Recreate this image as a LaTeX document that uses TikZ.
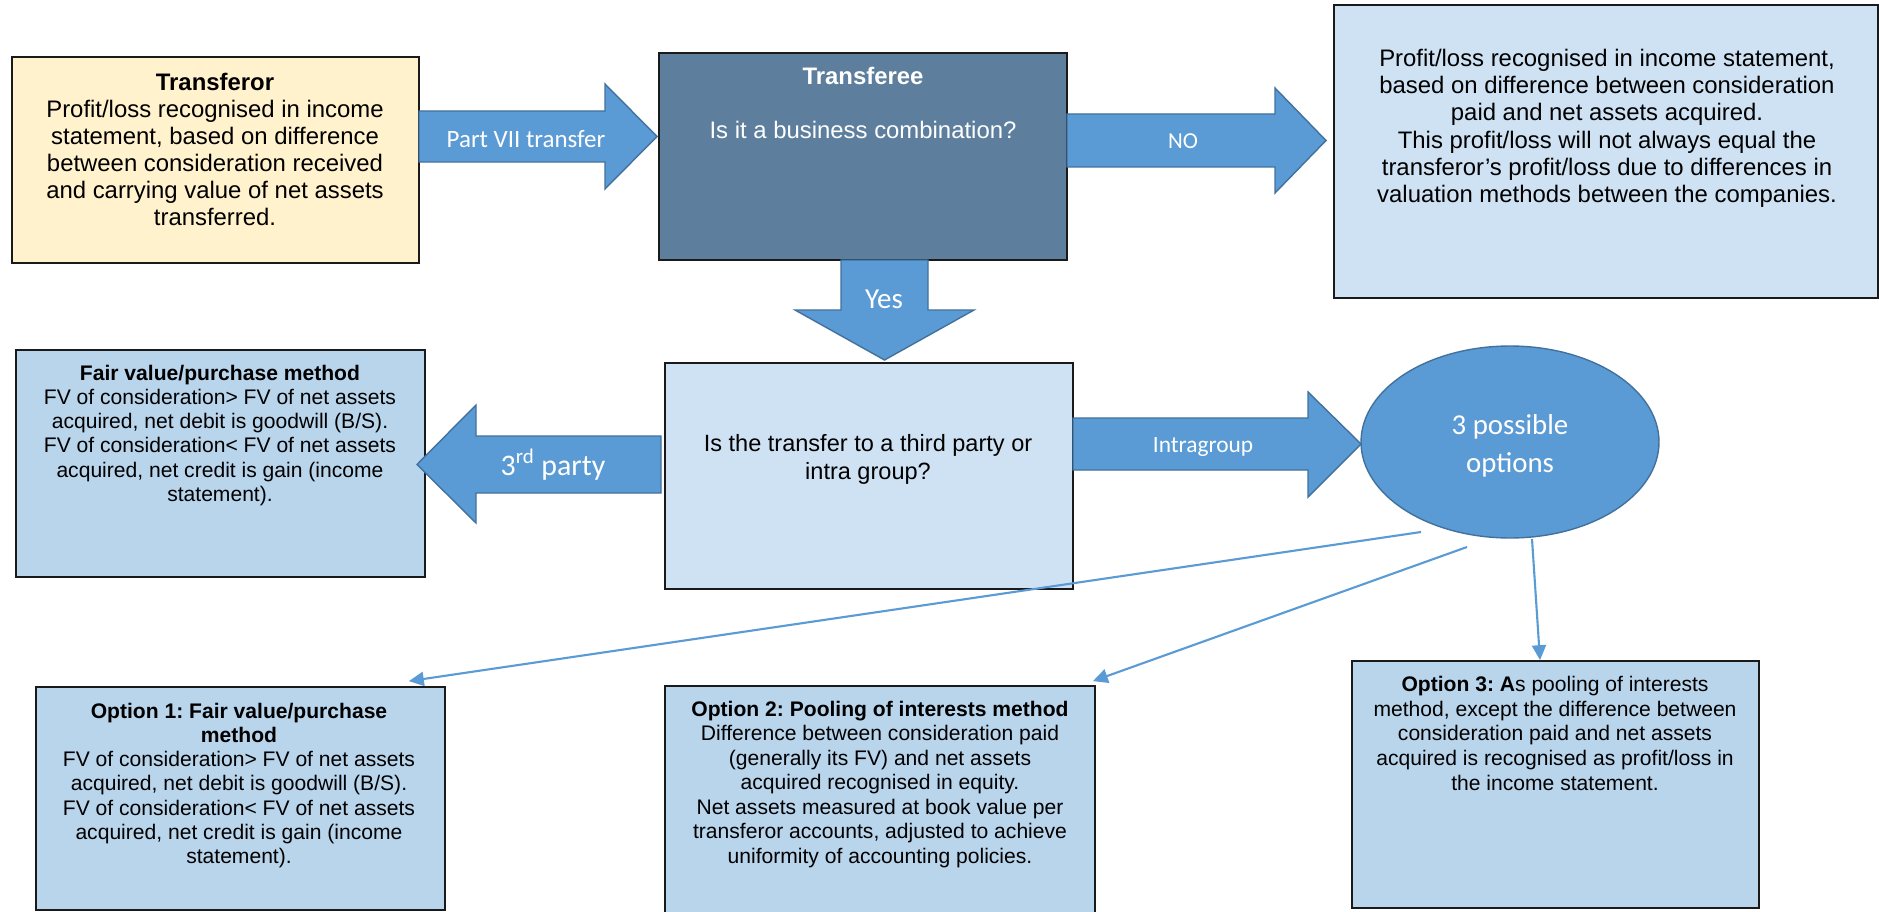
\documentclass[tikz,border=0pt]{standalone}
\usepackage{fontspec}
\setmainfont{Liberation Sans}
\newfontfamily\calfont{Carlito}
\usetikzlibrary{fit,shapes.geometric,arrows.meta,calc}
\frenchspacing

\definecolor{paleyellow}{HTML}{FFF2CC}
\definecolor{slatepanel}{HTML}{5D7F9D}
\definecolor{paleblue}{HTML}{CFE2F3}
\definecolor{midblue}{HTML}{B9D5EC}
\definecolor{accentblue}{HTML}{5B9BD5}
\definecolor{accentedge}{HTML}{41719C}
\definecolor{frameblack}{HTML}{1A1A1A}

\begin{document}
\begin{tikzpicture}[x=0.02cm,y=-0.02cm,
  panel/.style={fit={#1}, inner sep=0pt, draw=frameblack, line width=1pt},
  blockarrow/.style={fill=accentblue, draw=accentedge, line width=0.8pt, line join=miter},
  txt/.style={align=center, inner sep=0pt, anchor=north, text=black},
  arrowlabel/.style={inner sep=0pt, anchor=base, text=white},
  link/.style={draw=accentblue, line width=1.2pt, -{Triangle[length=8.5pt,width=8pt]}}
]
\useasboundingbox[fill=white] (0,0) rectangle (1879,912);

% ---------- panels ----------
\node[panel={(12,57) (419,263)}, fill=paleyellow] (tfr) {};
\node[panel={(659,53) (1067,260)}, fill=slatepanel] (tfe) {};
\node[panel={(1334,5) (1878,298)}, fill=paleblue] (noresult) {};
\node[panel={(16,350) (425,577)}, fill=midblue] (thirdres) {};
\node[panel={(665,363) (1073,589)}, fill=paleblue] (question) {};
\node[panel={(36,687) (445,910)}, fill=midblue] (opt1) {};
\node[panel={(665,686) (1095,920)}, fill=midblue] (opt2) {};
\node[panel={(1352,661) (1759,908)}, fill=midblue] (opt3) {};

\node[ellipse, minimum width=5.96cm, minimum height=3.84cm, inner sep=0pt,
      fill=accentblue, draw=accentedge, line width=0.8pt] (options) at (1510,442) {};

% ---------- block arrows ----------
\draw[blockarrow] (419,111) -- (605,111) -- (605,84) -- (657,136.5) -- (605,189) -- (605,162) -- (419,162) -- cycle;
\draw[blockarrow] (1067,114) -- (1275,114) -- (1275,88) -- (1326,140.5) -- (1275,193) -- (1275,167) -- (1067,167) -- cycle;
\draw[blockarrow] (841,260) -- (928,260) -- (928,310) -- (974,310) -- (884.5,360) -- (795,310) -- (841,310) -- cycle;
\draw[blockarrow] (661,436) -- (476,436) -- (476,405) -- (417,464.5) -- (476,523) -- (476,493) -- (661,493) -- cycle;
\draw[blockarrow] (1073,418) -- (1308,418) -- (1308,392) -- (1361,444) -- (1308,497) -- (1308,470) -- (1073,470) -- cycle;

% ---------- arrow labels ----------
\node[arrowlabel, font={\calfont\fontsize{14.2}{17}\selectfont}] (lblpart) at (526,148) {Part VII transfer};
\node[arrowlabel, font={\calfont\fontsize{13}{16}\selectfont}] (lblno) at (1183,149) {NO};
\node[arrowlabel, font={\calfont\fontsize{16.5}{20}\selectfont}] (lblyes) at (884,308) {Yes};
\node[arrowlabel, font={\calfont\fontsize{17}{20}\selectfont}] (lblthird) at (553,475) {3\textsuperscript{rd} party};
\node[arrowlabel, font={\calfont\fontsize{13.3}{16}\selectfont}] (lblintra) at (1203,452) {Intragroup};

% ---------- panel texts ----------
\node[txt, font={\fontsize{13.6}{15.4}\selectfont}] (tfrtext) at (215,71) {\strut\textbf{Transferor}\\Profit/loss recognised in income\\statement, based on difference\\between consideration received\\and carrying value of net assets\\transferred.};

\node[arrowlabel, font={\fontsize{13.6}{15.4}\selectfont\bfseries}] (tfetitle) at (863,85) {Transferee};
\node[arrowlabel, font={\fontsize{13.6}{15.4}\selectfont}] (tfetext) at (863,139) {Is it a business combination?};

\node[txt, font={\fontsize{13.6}{15.5}\selectfont}] (notext) at (1607,47) {\strut Profit/loss recognised in income statement,\\based on difference between consideration\\paid and net assets acquired.\\This profit/loss will not always equal the\\transferor’s profit/loss due to differences in\\valuation methods between the companies.};

\node[txt, font={\fontsize{12}{13.77}\selectfont}] (thirdtext) at (220,363) {\strut\textbf{Fair value/purchase method}\\FV of consideration> FV of net assets\\acquired, net debit is goodwill (B/S).\\FV of consideration< FV of net assets\\acquired, net credit is gain (income\\statement).};

\node[txt, font={\fontsize{13.4}{15.9}\selectfont}] (questiontext) at (868,431.5) {\strut Is the transfer to a third party or\\intra group?};

\node[txt, text=white, font={\calfont\fontsize{16.4}{21.6}\selectfont}] (optionstext) at (1510,407.5) {\strut 3 possible\\options};

\node[txt, font={\fontsize{12}{13.77}\selectfont}] (opt1text) at (239,701) {\strut\textbf{Option 1: Fair value/purchase}\\\textbf{method}\\FV of consideration> FV of net assets\\acquired, net debit is goodwill (B/S).\\FV of consideration< FV of net assets\\acquired, net credit is gain (income\\statement).};

\node[txt, font={\fontsize{12}{13.94}\selectfont}] (opt2text) at (880,699) {\strut\textbf{Option 2: Pooling of interests method}\\Difference between consideration paid\\(generally its FV) and net assets\\acquired recognised in equity.\\Net assets measured at book value per\\transferor accounts, adjusted to achieve\\uniformity of accounting policies.};

\node[txt, font={\fontsize{12}{14.08}\selectfont}] (opt3text) at (1555,673.7) {\strut\textbf{Option 3: A}s pooling of interests\\method, except the difference between\\consideration paid and net assets\\acquired is recognised as profit/loss in\\the income statement.};

% ---------- connectors from the options ellipse ----------
\coordinate (from1) at ($(options.center)+(-89,90)$);
\coordinate (from2) at ($(options.center)+(-43,105)$);
\coordinate (from3) at ($(options.center)+(22,97)$);
\draw[link] (from1) -- ($(opt1.north east)+(-37,-5)$);
\draw[link] (from2) -- ($(opt2.north east)+(-3,-4)$);
\draw[link] (from3) -- ($(opt3.north)+(-15.5,0)$);
\end{tikzpicture}
\end{document}
